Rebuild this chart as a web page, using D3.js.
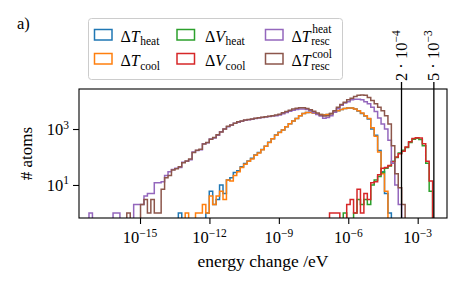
<!DOCTYPE html>
<html><head><meta charset="utf-8">
<script src="https://cdn.jsdelivr.net/npm/d3@7"></script>
<style>
html,body{margin:0;padding:0;background:#fff;}
text{font-family:"Liberation Serif","Times New Roman",serif;fill:#000;}
</style></head>
<body><svg id="c" width="466" height="292"></svg>
<script>
// ---- data ----
// log-spaced bins (log10 of energy change / eV)
const binLo = -17.205, binStep = 0.1485, nBins = 100;
// counts per bin; each series starts at the given bin index
const tHeatStart = 26;
const tHeat = [1,0,0,0,0,0,0,0,1,6,2,3,10,5,15,18,28,32,45,58,72,90,118,145,185,240,335,450,610,760,930,1200,1550,1950,2400,3000,3600,3900,3950,3700,3400,3300,3250,3300,3600,4000,4500,5000,5400,5600,5600,5200,4400,3600,2900,2300,1000,600,170,30,5,1];
const tCoolStart = 28;
const tCool = [1,0,0,1,1,2,1,4,2,4,6,3,15,14,22,30,42,55,70,85,115,140,180,240,330,450,600,750,920,1200,1550,1950,2400,3000,3600,3900,3900,3700,3400,3300,3200,3300,3600,4000,4500,5000,5400,5600,5600,5200,4500,3700,3000,2400,1100,550,150,25,6];
const vHeatStart = 74;
const vHeat = [1,0,0,1,3,2,3,2,10,15,20,28,40,48,70,95,140,175,220,330,430,470,420,250,60,6];
const vCoolStart = 70;
const vCool = [1,1,1,0,0,2,3,1,7,1,5,3,12,13,23,40,42,50,68,100,130,160,230,350,460,490,480,300,70,14];
const tRescHeatStart = 0;
const tRescHeat = [1,0,0,0,0,0,0,1,1,0,0,0,0,2,2,2,4,5,5,12,12,13,22,30,36,40,42,65,70,80,150,170,180,300,320,440,480,600,800,1000,1200,1400,1600,1750,1900,2050,2150,2250,2400,2500,2600,2700,2800,2900,3000,3200,3500,3900,4300,4700,5000,5200,5200,5000,4500,3900,3300,2900,2450,2600,3000,4000,5300,7000,8500,9500,11000,11500,11500,11000,9500,8000,6000,4200,2500,1500,1000,400,60,10,2];
const tRescCoolStart = 11;
const tRescCool = [1,0,0,0,2,3,1,3,1,1,7,18,22,34,38,45,62,72,85,145,175,190,290,330,430,500,620,780,1000,1250,1400,1600,1800,1950,2100,2200,2300,2450,2550,2650,2750,2850,3000,3150,3400,3800,4200,4700,5200,5500,5700,5700,5400,4900,4300,3700,3200,2900,3000,3500,4500,6000,7500,9000,11000,12500,14500,16000,16500,16000,13500,10500,8000,6000,4500,3000,1500,250,25,8,2];

const xTicks = [1e-15, 1e-12, 1e-9, 1e-6, 1e-3];
const xTickExp = ["−15", "−12", "−9", "−6", "−3"];
const yTicks = [10, 1000];
const yTickExp = ["1", "3"];
const markers = [2e-4, 5e-3];
const markerLabels = [["2 · 10", "−4"], ["5 · 10", "−3"]];

const seriesNames = ["tHeat","tCool","vHeat","vCool","tRescHeat","tRescCool"];
const colors = ["#1f77b4","#ff7f0e","#2ca02c","#d62728","#9467bd","#8c564b"];
const legendSym = ["T","T","V","V","T","T"];
const legendSub = ["heat","cool","heat","cool","resc","resc"];
const legendSup = [null,null,null,null,"heat","cool"];

// ---- chart ----
const svg = d3.select("#c");
const L = 79, R = 447, T = 89, B = 218;
const x = d3.scaleLog().domain([Math.pow(10,-17.637), Math.pow(10,-1.733)]).range([L, R]);
const y = d3.scaleLog().domain([Math.pow(10,-0.18), Math.pow(10,4.43)]).range([B, T]);

svg.append("defs").append("clipPath").attr("id","pc")
  .append("rect").attr("x",L).attr("y",T).attr("width",R-L).attr("height",B-T);

const edges = d3.range(nBins+1).map(i => Math.pow(10, binLo + binStep*i));
const seriesData = [
  [tHeatStart, tHeat], [tCoolStart, tCool], [vHeatStart, vHeat],
  [vCoolStart, vCool], [tRescHeatStart, tRescHeat], [tRescCoolStart, tRescCool]
];
const yPix = c => c > 0 ? y(c) : B + 4;
const line = d3.line().x(d => x(d[0])).y(d => yPix(d[1]));

const gH = svg.append("g").attr("clip-path","url(#pc)");
seriesData.forEach(([start, vals], k) => {
  const pts = [[edges[start], 0]];
  vals.forEach((c, j) => {
    const i = start + j;
    pts.push([edges[i], c]);
    pts.push([edges[i+1], c]);
  });
  pts.push([edges[start + vals.length], 0]);
  gH.append("path").attr("d", line(pts)).attr("fill","none")
    .attr("stroke", colors[k]).attr("stroke-width",1.5).attr("stroke-linejoin","miter");
});

// vertical marker lines
markers.forEach(m => {
  svg.append("line").attr("x1",x(m)).attr("x2",x(m)).attr("y1",T-7).attr("y2",B)
    .attr("stroke","#000").attr("stroke-width",1.3);
});

// axes
const fs = 16.5;
svg.append("g").attr("transform",`translate(0,${B})`)
  .call(d3.axisBottom(x).tickValues(xTicks).tickFormat(()=>"").tickSize(6).tickSizeOuter(0))
  .call(g => g.select(".domain").remove())
  .selectAll("line").attr("stroke","#000").attr("stroke-width",1.1);
svg.append("g").attr("transform",`translate(${L},0)`)
  .call(d3.axisLeft(y).tickValues(yTicks).tickFormat(()=>"").tickSize(6).tickSizeOuter(0))
  .call(g => g.select(".domain").remove())
  .selectAll("line").attr("stroke","#000").attr("stroke-width",1.1);

xTicks.forEach((v, i) => {
  const t = svg.append("text").attr("x", x(v)).attr("y", 243).attr("text-anchor","middle")
    .style("font-size", fs+"px");
  t.append("tspan").text("10");
  t.append("tspan").attr("dy",-6.5).style("font-size","11.5px").text(xTickExp[i]);
});
yTicks.forEach((v, i) => {
  const t = svg.append("text").attr("x", 69).attr("y", y(v)+6).attr("text-anchor","end")
    .style("font-size", fs+"px");
  t.append("tspan").text("10");
  t.append("tspan").attr("dy",-6.5).style("font-size","11.5px").text(yTickExp[i]);
});

// frame
svg.append("rect").attr("x",L).attr("y",T).attr("width",R-L).attr("height",B-T)
  .attr("fill","none").attr("stroke","#000").attr("stroke-width",1.1);

// marker labels (top)
markers.forEach((m, i) => {
  const t = svg.append("text").attr("transform",`translate(${x(m)+5},81) rotate(-90)`)
    .attr("text-anchor","start").style("font-size", fs+"px");
  t.append("tspan").text(markerLabels[i][0]);
  t.append("tspan").attr("dy",-6.5).style("font-size","11.5px").text(markerLabels[i][1]);
});

// axis labels
svg.append("text").attr("x",263).attr("y",267).attr("text-anchor","middle")
  .style("font-size","17.5px").text("energy change /eV");
svg.append("text").attr("transform","translate(32,153.5) rotate(-90)").attr("text-anchor","middle")
  .style("font-size","17px").text("# atoms");
svg.append("text").attr("x",17).attr("y",29).style("font-size","16.5px").text("a)");

// legend
svg.append("rect").attr("x",88.5).attr("y",18.5).attr("width",254).attr("height",61).attr("rx",3)
  .attr("fill","#fff").attr("fill-opacity",0.8).attr("stroke","#cccccc").attr("stroke-width",1);
const colX = [94.5, 177, 265.5];
const txtX = [120.5, 205, 291.5];
const rowY = [29.5, 53.5];
const baseY = [41.5, 66];
seriesNames.forEach((n, k) => {
  const col = Math.floor(k/2), row = k % 2;
  svg.append("rect").attr("x",colX[col]).attr("y",rowY[row]).attr("width",17.5).attr("height",10.5)
    .attr("fill","none").attr("stroke",colors[k]).attr("stroke-width",1.5);
  const t = svg.append("text").attr("x",txtX[col]).attr("y",baseY[row]).style("font-size","16px");
  t.append("tspan").text("Δ");
  t.append("tspan").style("font-style","italic").text(legendSym[k]);
  t.append("tspan").attr("dy",3.5).attr("dx",0.5).style("font-size","11.5px").text(legendSub[k]);
  if (legendSup[k]) {
    const tmp = svg.append("text").style("font-size","16px");
    tmp.append("tspan").text("Δ");
    tmp.append("tspan").style("font-style","italic").text(legendSym[k]);
    const w = tmp.node().getComputedTextLength();
    tmp.remove();
    svg.append("text").attr("x", txtX[col] + w + 1.5).attr("y", baseY[row] - 8.5)
      .style("font-size","11.5px").text(legendSup[k]);
  }
});
</script></body></html>
